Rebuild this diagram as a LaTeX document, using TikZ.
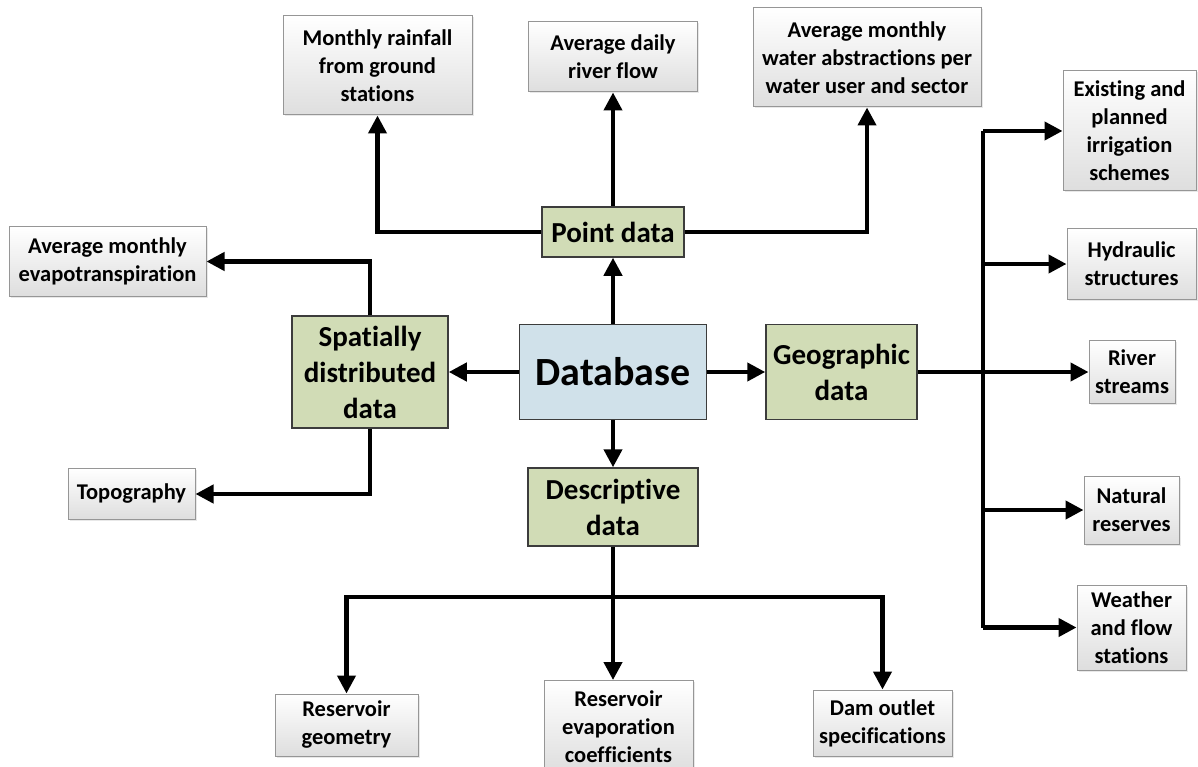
\documentclass[tikz,border=0pt]{standalone}
\usepackage{fontspec}
\setmainfont{Carlito}[Ligatures={NoCommon}]
\usetikzlibrary{arrows.meta,shadows}
\definecolor{greenfill}{RGB}{209,220,182}
\definecolor{bluefill}{RGB}{208,225,234}
\definecolor{boxedge}{RGB}{150,150,150}
\definecolor{darkedge}{RGB}{60,60,60}
\tikzset{
  leaf/.style={draw=boxedge, line width=1pt, top color=white, bottom color=black!13,
    drop shadow={shadow xshift=1.5pt, shadow yshift=-1.5pt, fill=black!18},
    inner sep=0pt, align=center, font=\fontsize{22.5}{28}\selectfont\bfseries},
  mid/.style={draw=darkedge, line width=1.5pt, fill=greenfill, inner sep=0pt, align=center,
    font=\fontsize{29}{36}\selectfont\bfseries},
  core/.style={draw=darkedge, line width=1.5pt, fill=bluefill, inner sep=0pt, align=center,
    font=\fontsize{40}{46}\selectfont\bfseries},
  link/.style={line width=4.2pt, draw=black},
  arr/.style={link, -{Triangle[width=18pt,length=18pt]}}
}
\begin{document}
\begin{tikzpicture}[x=1pt,y=-1pt]
\useasboundingbox (0,0) rectangle (1198,767);
% leaf boxes
\node[leaf, minimum width=189pt, minimum height=99pt] (rain) at (377.5,65.5) {Monthly rainfall\\from ground\\stations};
\node[leaf, minimum width=169pt, minimum height=70pt] (flow) at (613,57) {Average daily\\river flow};
\node[leaf, minimum width=228pt, minimum height=99pt] (abs) at (867,57.5) {Average monthly\\water abstractions per\\water user and sector};
\node[leaf, minimum width=133pt, minimum height=120pt] (irr) at (1129.5,131) {Existing and\\planned\\irrigation\\schemes};
\node[leaf, minimum width=197pt, minimum height=69pt] (evap) at (107.5,261.5) {Average monthly\\evapotranspiration};
\node[leaf, minimum width=129pt, minimum height=70pt] (hyd) at (1131.5,264) {Hydraulic\\structures};
\node[leaf, minimum width=86pt, minimum height=63pt] (riv) at (1132,372) {River\\streams};
\node[leaf, minimum width=127pt, minimum height=51pt] (topo) at (131.5,494) {Topography};
\node[leaf, minimum width=95pt, minimum height=68pt] (nat) at (1131.5,510) {Natural\\reserves};
\node[leaf, minimum width=109pt, minimum height=85pt] (wea) at (1131.5,627.5) {Weather\\and flow\\stations};
\node[leaf, minimum width=143pt, minimum height=62pt] (rgeo) at (346.5,725) {Reservoir\\geometry};
\node[leaf, minimum width=149pt, minimum height=93pt] (revap) at (618.5,727) {Reservoir\\evaporation\\coefficients};
\node[leaf, minimum width=139pt, minimum height=66pt] (dam) at (882.5,723) {Dam outlet\\specifications};
% middle boxes
\node[mid, minimum width=142pt, minimum height=50pt] (point) at (613,232) {Point data};
\node[mid, minimum width=156pt, minimum height=112pt] (spat) at (370,372) {Spatially\\distributed\\data};
\node[mid, minimum width=151pt, minimum height=95pt] (geo) at (841.5,372) {Geographic\\data};
\node[mid, minimum width=170pt, minimum height=78pt] (desc) at (613,507) {Descriptive\\data};
\node[core, minimum width=187pt, minimum height=95pt] (db) at (613,372) {Database};
% junctions
\coordinate (dj) at (613,597);
\coordinate (gx) at (983,372);
% connectors
\draw[arr] (point.north) -- (flow.south);
\draw[arr] (point.west) -| (rain.south);
\draw[arr] (point.east) -| (abs.south);
\draw[arr] (db.north) -- (point.south);
\draw[arr] (db.west) -- (spat.east);
\draw[arr] (db.east) -- (geo.west);
\draw[arr] (db.south) -- (desc.north);
\draw[arr] (spat.north) |- (evap.east);
\draw[arr] (spat.south) |- (topo.east);
\draw[link] (desc.south) -- (dj);
\draw[arr] (dj) -| (rgeo.north);
\draw[arr] (dj) -| (dam.north);
\draw[arr] (dj) -- (dj |- revap.north);
\draw[arr] (geo.east) -- (riv.west);
\draw[link] (gx |- irr.west) -- (gx |- wea.west);
\draw[arr] (gx |- irr.west) -- (irr.west);
\draw[arr] (gx |- hyd.west) -- (hyd.west);
\draw[arr] (gx |- nat.west) -- (nat.west);
\draw[arr] (gx |- wea.west) -- (wea.west);
\end{tikzpicture}
\end{document}
